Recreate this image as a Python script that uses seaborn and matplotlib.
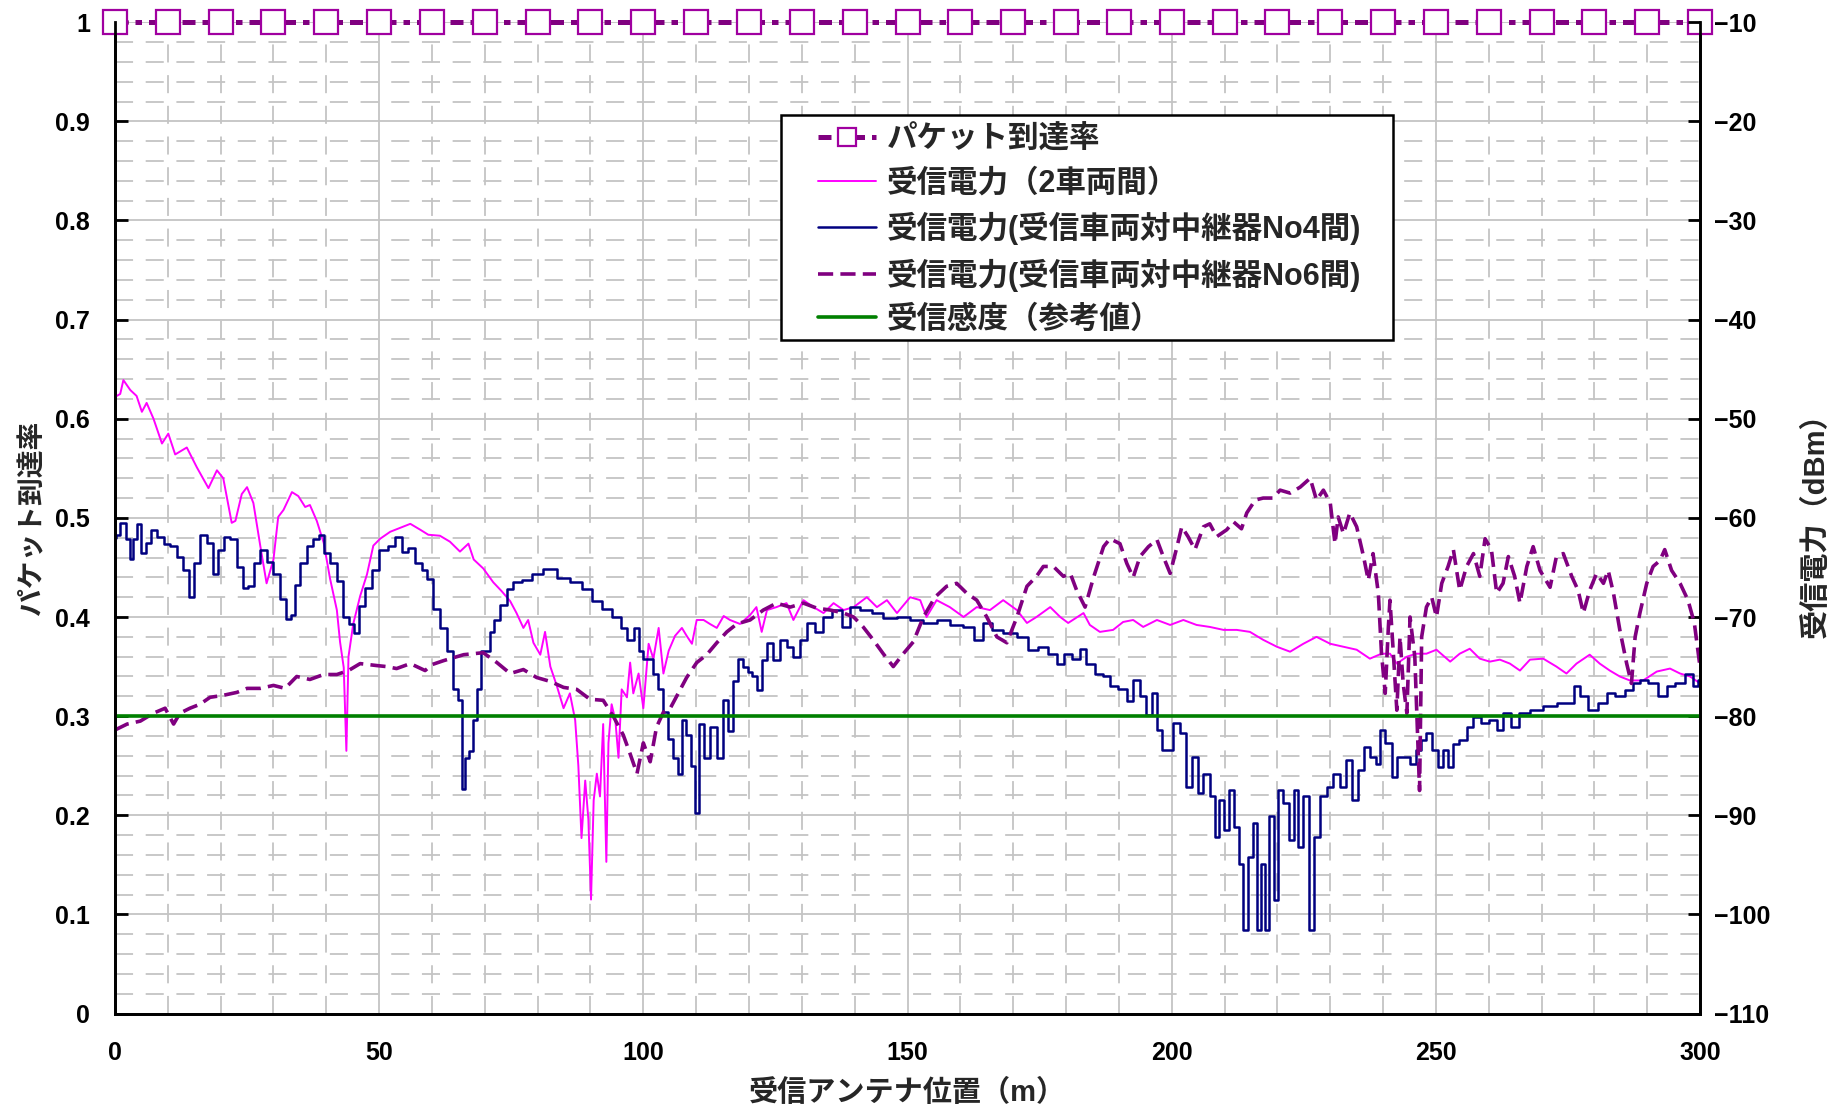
import numpy as np
import pandas as pd
import matplotlib
matplotlib.use("Agg")
import matplotlib.pyplot as plt
import seaborn as sns
from matplotlib.patches import Rectangle
from matplotlib.ticker import FuncFormatter, MultipleLocator

# packet arrival rate (left axis), one marker every 10 m
pkt_x = [0, 10, 20, 30, 40, 50, 60, 70, 80, 90, 100, 110, 120, 130, 140, 150,
         160, 170, 180, 190, 200, 210, 220, 230, 240, 250, 260, 270, 280, 290, 300]
pkt_rate = [1.0, 1.0, 1.0, 1.0, 1.0, 1.0, 1.0, 1.0, 1.0, 1.0, 1.0, 1.0, 1.0, 1.0, 1.0, 1.0,
            1.0, 1.0, 1.0, 1.0, 1.0, 1.0, 1.0, 1.0, 1.0, 1.0, 1.0, 1.0, 1.0, 1.0, 1.0]

# received power between the two vehicles (dBm)
rx2_x = [0.0, 1.0, 1.6, 2.9, 4.1, 5.1, 6.0, 7.3, 8.9, 10.1, 11.4, 13.6, 15.5, 17.7, 19.3,
         20.5, 22.1, 22.8, 24.0, 25.0, 26.2, 27.5, 28.7, 30.0, 30.9, 31.9, 33.5, 34.7, 36.0,
         36.9, 38.2, 39.5, 40.7, 42.0, 42.6, 43.3, 43.8, 44.2, 45.1, 46.4, 47.7, 48.9, 50.2,
         52.1, 54.0, 55.9, 57.8, 59.3, 61.5, 63.4, 65.3, 66.9, 67.9, 69.7, 71.6, 73.2, 74.8,
         76.0, 77.3, 78.2, 79.2, 80.5, 81.4, 82.4, 83.6, 84.9, 86.1, 87.1, 87.7, 88.3, 89.0,
         89.6, 90.1, 90.6, 91.2, 91.8, 92.4, 93.0, 93.4, 94.0, 94.7, 95.3, 95.9, 96.9, 97.5,
         98.1, 99.1, 100.0, 101.0, 101.9, 102.9, 103.8, 104.8, 106.0, 107.3, 108.2, 109.2,
         110.1, 111.4, 112.6, 113.9, 115.2, 116.4, 118.3, 120.2, 121.4, 122.4, 123.4, 125.2,
         127.1, 128.4, 130.3, 132.2, 134.1, 136.0, 137.9, 139.8, 142.3, 144.2, 146.1, 148.0,
         150.5, 152.4, 153.6, 155.5, 158.0, 160.6, 163.1, 165.6, 168.1, 170.7, 172.6, 174.4,
         177.0, 178.9, 180.4, 183.3, 184.5, 186.4, 188.9, 190.8, 192.7, 194.6, 197.2, 199.7,
         202.2, 204.7, 207.2, 209.8, 212.3, 214.8, 217.3, 219.9, 222.4, 224.9, 227.4, 230.0,
         232.5, 235.0, 237.5, 239.7, 241.3, 242.6, 244.5, 246.3, 248.2, 250.1, 252.7, 254.5,
         256.4, 258.3, 260.2, 262.1, 264.0, 265.9, 267.8, 270.3, 272.8, 274.7, 276.6, 279.1,
         281.0, 282.9, 284.8, 286.7, 289.2, 291.8, 294.3, 296.2, 298.1, 300.0]
rx2_dbm = [-47.8, -47.5, -46.1, -47.1, -47.7, -49.3, -48.4, -50.0, -52.5, -51.5, -53.6, -52.9,
           -54.9, -57.0, -55.2, -56.0, -60.5, -60.3, -57.6, -56.9, -58.5, -62.8, -66.6, -64.2,
           -59.9, -59.2, -57.4, -57.8, -58.9, -58.7, -60.3, -62.5, -66.1, -69.3, -72.5, -75.1,
           -83.5, -74.0, -70.7, -67.9, -65.7, -62.8, -62.1, -61.4, -61.0, -60.6, -61.2, -61.7,
           -61.8, -62.4, -63.4, -62.6, -64.2, -65.1, -66.5, -67.4, -68.4, -69.6, -71.1, -70.3,
           -72.6, -73.8, -71.5, -75.0, -76.9, -79.2, -77.7, -80.4, -85.0, -92.3, -86.5, -90.4,
           -98.5, -88.5, -85.8, -88.1, -80.8, -94.7, -82.7, -78.8, -80.4, -84.2, -77.3, -78.1,
           -74.6, -77.7, -75.7, -79.2, -72.7, -74.2, -71.1, -75.7, -73.4, -71.9, -71.1, -71.9,
           -72.7, -70.3, -70.3, -70.7, -71.1, -69.9, -70.3, -70.7, -69.8, -69.0, -71.5, -69.3,
           -69.0, -68.6, -70.3, -68.3, -69.0, -69.6, -68.6, -69.3, -69.0, -68.0, -69.0, -68.3,
           -69.6, -68.0, -68.3, -70.0, -68.3, -69.0, -70.0, -69.0, -69.3, -68.3, -69.3, -70.6,
           -70.0, -69.0, -70.0, -70.6, -69.6, -70.8, -71.5, -71.3, -70.5, -70.3, -71.0, -70.3,
           -70.8, -70.3, -70.8, -71.0, -71.3, -71.3, -71.5, -72.3, -73.0, -73.5, -72.7, -72.0,
           -72.7, -73.0, -73.3, -74.2, -73.7, -73.7, -74.7, -74.0, -73.7, -73.7, -73.3, -74.5,
           -73.7, -73.2, -74.2, -74.5, -74.3, -74.7, -75.4, -74.3, -74.2, -75.0, -75.7, -74.7,
           -73.8, -74.7, -75.4, -76.0, -76.4, -76.4, -75.5, -75.2, -75.7, -76.0, -76.7]

# received power, receiving vehicle to repeater No4 (dBm)
rx4_x = [0.0, 0.4, 1.6, 2.6, 3.2, 3.8, 4.5, 5.4, 6.4, 7.3, 8.6, 9.8, 11.1, 12.3, 13.3, 14.6,
         15.5, 16.8, 18.0, 19.0, 19.9, 21.2, 22.4, 23.7, 24.6, 25.9, 26.9, 28.1, 29.4, 30.6,
         31.9, 33.0, 33.7, 34.4, 35.7, 36.9, 38.2, 39.2, 40.1, 41.4, 42.6, 43.9, 44.8, 45.8,
         46.7, 48.0, 49.2, 50.8, 52.4, 53.7, 54.9, 56.2, 57.4, 58.7, 59.6, 60.9, 62.2, 63.4,
         64.4, 65.3, 66.0, 66.6, 67.5, 68.2, 68.8, 69.7, 70.6, 71.3, 72.3, 73.5, 74.8, 76.0,
         77.9, 79.8, 82.4, 84.9, 87.4, 89.3, 91.2, 93.1, 95.0, 96.5, 97.5, 98.8, 99.4, 100.3,
         101.3, 102.2, 103.2, 104.1, 105.1, 106.3, 107.0, 107.6, 108.5, 109.5, 110.1, 111.1,
         112.0, 113.3, 114.5, 115.5, 116.4, 117.4, 118.3, 119.3, 120.2, 121.1, 122.1, 122.7,
         124.0, 125.2, 126.5, 127.8, 129.0, 130.3, 131.6, 133.4, 134.7, 136.6, 138.5, 139.8,
         142.3, 144.2, 146.7, 149.2, 151.7, 154.3, 156.8, 159.3, 161.8, 163.4, 165.0, 166.9,
         169.4, 171.9, 173.8, 175.7, 177.6, 178.9, 180.4, 182.0, 183.1, 184.5, 186.4, 187.7,
         189.0, 190.8, 192.1, 193.4, 194.6, 195.6, 196.8, 197.8, 198.7, 199.7, 200.9, 202.2,
         203.1, 204.4, 205.4, 206.6, 207.9, 208.5, 209.4, 210.4, 211.3, 212.3, 213.2, 213.9,
         214.8, 215.8, 216.4, 217.2, 218.0, 218.9, 219.9, 220.5, 221.7, 222.7, 223.6, 224.3,
         225.5, 226.5, 227.4, 228.7, 229.9, 231.2, 232.5, 233.4, 234.7, 235.9, 236.9, 238.1,
         239.1, 239.7, 241.0, 242.2, 242.9, 244.5, 245.7, 246.7, 247.6, 248.6, 249.8, 250.8,
         252.0, 252.7, 253.6, 255.2, 256.4, 257.7, 259.3, 260.9, 262.1, 263.4, 264.9, 266.5,
         269.0, 271.6, 274.1, 275.7, 276.6, 277.9, 279.8, 281.7, 282.9, 284.8, 286.7, 288.0,
         289.2, 291.1, 293.0, 294.3, 296.2, 298.1, 299.3, 300.0]
rx4_dbm = [-62.0, -61.7, -60.5, -62.1, -64.1, -62.1, -60.6, -63.5, -62.5, -61.2, -61.9, -62.6,
           -62.8, -63.9, -65.3, -68.0, -64.6, -61.7, -62.5, -65.7, -63.2, -61.9, -62.1, -65.0,
           -67.1, -66.9, -64.6, -63.2, -64.4, -65.7, -68.2, -70.2, -69.8, -66.8, -64.6, -62.8,
           -62.1, -61.7, -63.5, -64.6, -66.4, -70.0, -70.7, -71.6, -68.9, -67.1, -65.3, -63.2,
           -62.8, -61.9, -63.4, -63.0, -64.6, -65.3, -66.2, -69.2, -71.1, -73.4, -77.3, -78.4,
           -87.3, -84.2, -83.5, -80.4, -77.3, -73.4, -73.4, -71.5, -70.3, -68.8, -67.2, -66.5,
           -66.3, -65.7, -65.2, -66.1, -66.5, -67.2, -68.4, -69.2, -70.0, -71.1, -72.3, -71.1,
           -73.4, -74.2, -74.2, -75.7, -77.3, -79.6, -82.3, -84.2, -85.8, -80.4, -81.9, -85.0,
           -89.8, -80.8, -84.2, -81.1, -84.2, -78.4, -81.5, -76.5, -74.2, -75.0, -75.5, -76.0,
           -77.4, -74.3, -72.6, -74.3, -72.3, -73.0, -74.0, -72.3, -70.6, -71.5, -70.0, -69.3,
           -71.0, -69.0, -69.3, -69.6, -70.1, -70.0, -70.3, -70.6, -70.3, -70.8, -71.0, -72.3,
           -70.6, -71.3, -71.6, -72.0, -73.3, -73.0, -73.7, -74.7, -73.7, -74.2, -73.2, -74.7,
           -75.7, -76.0, -77.0, -77.3, -78.5, -76.4, -78.0, -79.9, -77.7, -81.4, -83.4, -83.4,
           -80.7, -81.7, -87.1, -84.1, -87.8, -85.8, -88.1, -92.2, -88.5, -91.5, -87.5, -91.2,
           -94.9, -101.6, -94.2, -90.8, -101.6, -94.9, -101.6, -90.1, -98.5, -87.5, -88.8, -92.5,
           -87.5, -93.2, -88.1, -101.6, -92.2, -88.1, -87.1, -85.8, -87.1, -84.4, -88.5, -85.4,
           -83.1, -84.1, -84.8, -81.4, -82.7, -86.1, -84.1, -84.1, -84.8, -83.4, -82.4, -81.7,
           -83.4, -85.1, -83.4, -85.1, -82.8, -82.4, -81.1, -80.1, -80.7, -80.4, -81.4, -79.7,
           -81.1, -79.7, -79.4, -79.0, -78.7, -78.7, -77.0, -78.0, -79.4, -78.7, -77.7, -78.0,
           -77.4, -76.7, -76.4, -76.7, -78.0, -77.0, -76.7, -75.7, -77.0, -76.4]

# received power, receiving vehicle to repeater No6 (dBm)
rx6_x = [0.0, 2.3, 4.8, 7.3, 9.5, 11.1, 12.3, 14.2, 16.1, 18.0, 20.5, 23.1, 25.0, 27.5, 30.0,
         32.2, 34.4, 36.9, 39.5, 42.0, 44.2, 46.4, 49.6, 51.4, 53.3, 55.9, 58.7, 60.0, 62.2,
         66.0, 69.7, 72.3, 74.8, 77.3, 79.8, 82.4, 84.9, 87.4, 89.9, 92.4, 94.3, 96.2, 97.5,
         98.8, 100.0, 101.3, 102.5, 103.8, 105.1, 106.6, 108.2, 110.1, 112.0, 113.9, 115.8,
         117.7, 120.2, 122.7, 125.2, 127.8, 130.3, 132.8, 135.4, 137.9, 139.8, 141.6, 143.5,
         145.4, 147.3, 149.2, 151.1, 153.0, 155.2, 157.4, 159.3, 161.2, 163.1, 165.0, 166.9,
         168.8, 170.7, 172.6, 174.4, 175.7, 177.6, 179.5, 180.8, 182.0, 183.6, 185.2, 187.1,
         188.3, 190.2, 191.5, 192.7, 194.0, 195.6, 197.2, 198.4, 199.7, 201.0, 201.9, 203.1,
         204.4, 206.0, 207.2, 208.5, 210.4, 211.7, 213.2, 214.2, 215.8, 217.3, 219.2, 220.5,
         222.4, 224.3, 226.2, 227.4, 228.7, 230.0, 230.9, 231.5, 232.5, 233.7, 235.0, 236.3,
         237.2, 238.1, 239.1, 239.7, 240.4, 241.0, 241.3, 241.9, 242.6, 243.2, 243.8, 244.5,
         245.1, 246.0, 246.9, 247.3, 248.2, 249.2, 250.1, 251.1, 252.3, 253.3, 254.5, 255.8,
         257.1, 258.3, 259.3, 260.5, 261.5, 262.7, 263.7, 264.9, 265.9, 267.2, 268.4, 269.7,
         271.6, 272.8, 274.1, 275.7, 276.9, 277.9, 279.1, 280.4, 281.7, 282.6, 283.6, 284.8,
         286.1, 287.0, 287.7, 288.6, 289.9, 291.1, 292.4, 293.3, 294.6, 296.2, 297.7, 298.9,
         299.9]
rx6_dbm = [-81.4, -80.8, -80.5, -79.7, -79.2, -80.8, -79.7, -79.2, -78.8, -78.1, -77.9, -77.6,
           -77.2, -77.2, -76.9, -77.2, -76.0, -76.3, -75.8, -75.8, -75.4, -74.7, -74.9, -75.0,
           -75.2, -74.7, -75.4, -74.8, -74.4, -73.8, -73.6, -74.6, -75.7, -75.3, -76.1, -76.5,
           -77.1, -77.3, -78.3, -78.4, -80.0, -81.9, -83.8, -85.8, -82.7, -84.6, -81.1, -79.6,
           -79.2, -77.7, -76.1, -74.6, -73.8, -72.6, -71.5, -70.7, -70.3, -69.3, -68.6, -69.0,
           -68.6, -69.1, -69.3, -69.6, -70.0, -71.0, -72.3, -73.7, -75.0, -73.7, -72.5, -70.0,
           -68.0, -66.9, -66.6, -67.6, -68.3, -70.0, -72.0, -72.6, -70.0, -66.9, -65.9, -64.9,
           -64.9, -65.9, -65.6, -67.3, -69.0, -66.0, -62.9, -62.1, -62.6, -64.6, -66.0, -63.9,
           -62.9, -62.2, -63.9, -65.6, -62.9, -60.9, -61.9, -63.2, -60.9, -60.6, -61.9, -61.2,
           -60.4, -61.1, -59.5, -58.2, -58.0, -58.0, -57.2, -57.5, -56.9, -56.0, -58.2, -57.2,
           -58.5, -62.6, -59.9, -61.6, -59.5, -60.9, -63.9, -66.3, -63.6, -67.6, -73.7, -77.7,
           -71.0, -68.3, -73.3, -79.4, -72.0, -76.7, -79.7, -70.0, -74.0, -87.5, -72.0, -69.0,
           -68.0, -70.0, -66.6, -64.9, -63.2, -67.3, -64.9, -63.6, -65.9, -62.1, -63.2, -67.6,
           -66.6, -63.9, -65.9, -68.6, -64.9, -62.9, -65.3, -67.0, -63.9, -63.6, -65.9, -67.3,
           -69.6, -67.3, -65.6, -66.6, -65.3, -67.6, -71.3, -74.7, -76.7, -72.0, -69.6, -66.6,
           -64.9, -64.3, -63.2, -65.3, -66.6, -68.3, -70.6, -74.7]

# receiver sensitivity (reference value, dBm)
sens_x = [0, 300]
sens_dbm = [-80, -80]

labels = ["パケット到達率", "受信電力（2車両間）", "受信電力(受信車両対中継器No4間)",
          "受信電力(受信車両対中継器No6間)", "受信感度（参考値）"]

sns.set_style("white")
plt.rcParams["font.family"] = ["Liberation Sans", "Noto Sans CJK JP"]

fig = plt.figure(figsize=(18.36, 11.06), dpi=100)
ax = fig.add_axes([0.0626, 0.0836, 0.8634, 0.8963])
ax2 = ax.twinx()

grid_c = "#c4c4c4"
ax.set_xlim(0, 300)
ax.set_ylim(0, 1)
ax.xaxis.set_major_locator(MultipleLocator(50))
ax.xaxis.set_minor_locator(MultipleLocator(10))
ax.yaxis.set_major_locator(MultipleLocator(0.1))
ax.yaxis.set_minor_locator(MultipleLocator(0.02))
ax.grid(which="major", color=grid_c, lw=1.3, ls="-")
ax.grid(which="minor", color=grid_c, lw=1.3, ls=(0, (10, 7)))
ax.set_axisbelow(True)

sns.lineplot(x=pkt_x, y=pkt_rate, ax=ax, color="#800080", lw=3.6,
             linestyle=(0, (2.6, 1.4, 1.3, 1.4)), marker="s", markersize=17,
             markerfacecolor="white", markeredgecolor="#a000a0", markeredgewidth=1.6,
             clip_on=False, label=labels[0], zorder=5)

sns.lineplot(x=rx2_x, y=rx2_dbm, ax=ax2, color="#ff00ff", lw=1.4, label=labels[1],
             estimator=None, sort=False)
sns.lineplot(x=rx4_x, y=rx4_dbm, ax=ax2, color="#000080", lw=1.8, label=labels[2],
             estimator=None, sort=False, drawstyle="steps-mid")
sns.lineplot(x=rx6_x, y=rx6_dbm, ax=ax2, color="#800080", lw=2.6, linestyle=(0, (4.2, 2.0)),
             label=labels[3], estimator=None, sort=False)
sns.lineplot(x=sens_x, y=sens_dbm, ax=ax2, color="#008000", lw=2.6, label=labels[4],
             estimator=None, sort=False)

ax2.set_ylim(-110, -10)
ax2.yaxis.set_major_locator(MultipleLocator(10))
ax.set_xlim(0, 300)

for a in (ax, ax2):
    if a.get_legend() is not None:
        a.get_legend().remove()
    a.spines["top"].set_visible(False)
    for s in ("left", "right", "bottom"):
        a.spines[s].set_color("black")
        a.spines[s].set_linewidth(2)

ax.tick_params(axis="both", which="major", direction="in", length=9, width=2,
               labelsize=18, colors="black")
ax.tick_params(axis="both", which="minor", length=0)
ax.tick_params(axis="y", pad=18)
ax.tick_params(axis="x", pad=20)
ax2.tick_params(axis="y", which="major", direction="in", length=9, width=2,
                labelsize=18, pad=10, colors="black")
ax.yaxis.set_major_formatter(FuncFormatter(lambda v, p: f"{v:g}"))
ax2.yaxis.set_major_formatter(FuncFormatter(lambda v, p: f"{v:g}".replace("-", "\u2212")))
for t in ax.get_xticklabels() + ax.get_yticklabels() + ax2.get_yticklabels():
    t.set_fontweight("bold")

ax.set_xlabel("受信アンテナ位置（m）", fontsize=21, fontweight="bold")
ax.set_ylabel("パケット到達率", fontsize=20, fontweight="bold")
ax2.set_ylabel("受信電力（dBm）", fontsize=21, fontweight="bold", rotation=90)
ax.xaxis.set_label_coords(0.5, -0.066)
ax.yaxis.set_label_coords(-0.043, 0.5)
ax2.yaxis.set_label_coords(1.064, 0.5)

# legend frame drawn as its own box (wider side padding than top/bottom)
frame = Rectangle((781 / 1836, 1 - 340 / 1106), 612 / 1836, 225 / 1106,
                  transform=fig.transFigure, facecolor="white", edgecolor="black",
                  lw=1.8, zorder=1)
fig.add_artist(frame)

h1, l1 = ax.get_legend_handles_labels()
h2, l2 = ax2.get_legend_handles_labels()
leg = fig.legend(h1 + h2, l1 + l2, loc="upper left", bbox_to_anchor=(0.4455, 0.887),
                 frameon=False, handlelength=1.9, handletextpad=0.35,
                 labelspacing=0.44, borderpad=0, borderaxespad=0,
                 numpoints=1, markerscale=0.75,
                 prop={"size": 22, "weight": "bold"})
leg.set_zorder(2)

fig.savefig("out.png", dpi=100)
